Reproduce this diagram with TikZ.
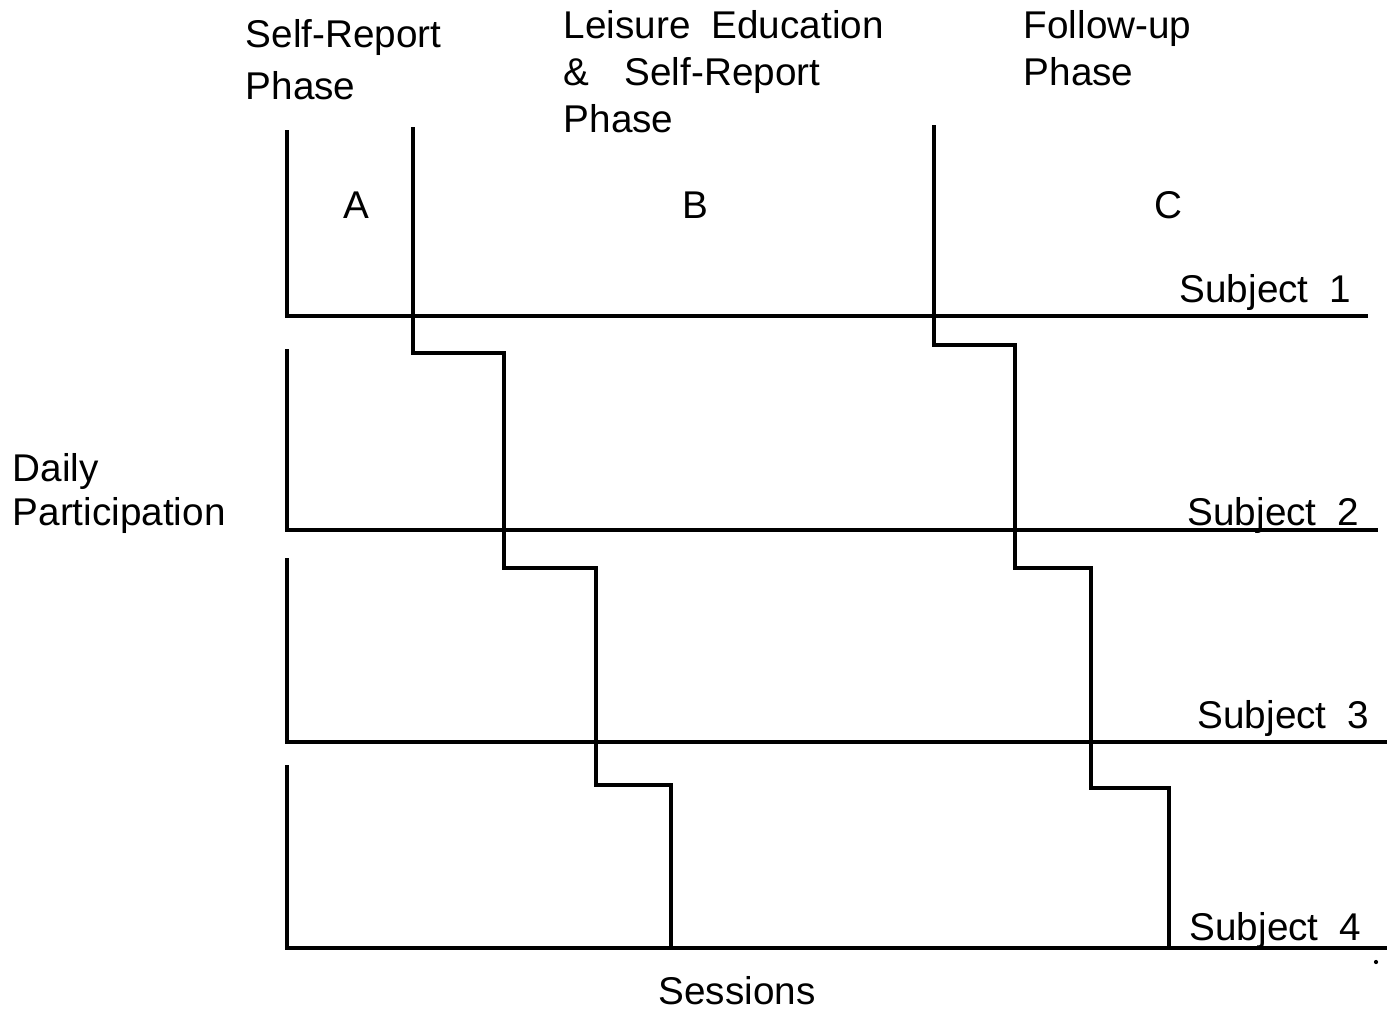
\documentclass[tikz,border=0pt]{standalone}
\usepackage{fontspec}
\setmainfont{Liberation Sans}
\usetikzlibrary{positioning}

\begin{document}
\begin{tikzpicture}[x=0.01cm,y=-0.01cm,
    lbl/.style={inner sep=0pt, font=\fontsize{11}{13.4}\selectfont},
    chartline/.style={line width=0.9pt}]

    \useasboundingbox (0,0) rectangle (1391,1009);

    % phase headings
    \node[lbl, anchor=north west, align=left, font=\fontsize{11}{14.8}\selectfont] (hdA) at (245,19) {Self-Report\\Phase};
    \node[lbl, anchor=north west, align=left] (hdB) at (563,10) {Leisure\hspace{6pt}Education\\\&\hspace{10pt}Self-Report\\Phase};
    \node[lbl, anchor=north west, align=left] (hdC) at (1023,10) {Follow-up\\Phase};

    \node[lbl, anchor=base] (phA) at (356,218) {A};
    \node[lbl, anchor=base] (phB) at (695,218) {B};
    \node[lbl, anchor=base] (phC) at (1168,218) {C};

    % axis labels
    \node[lbl, anchor=north west, align=left, font=\fontsize{11}{12.5}\selectfont] (yl) at (12,453) {Daily\\Participation};
    \node[lbl, anchor=base] (xl) at (737,1004) {Sessions};

    \foreach \ytop/\ybase/\xend/\xs/\ys [count=\i] in
        {130/316/1368/1352/302, 349/530/1378/1360/525,
         558/742/1387/1370/728, 765/948/1387/1362/940}  {   % one panel per subject
      \draw[chartline] (287,\ytop) coordinate (top\i) -- (287,\ybase) coordinate (org\i)
                       -- (\xend,\ybase) coordinate (end\i);
      \node[lbl, anchor=base east] (subj\i) at (\xs,\ys) {Subject\hspace{6pt}\i};
    }

    % phase changes, staggered across subjects
    \draw[chartline] (413,127) -- (413,353) -- (504,353) -- (504,568)
                     -- (596,568) -- (596,785) -- (671,785) -- (671,948);
    \draw[chartline] (934,125) -- (934,345) -- (1015,345) -- (1015,568)
                     -- (1091,568) -- (1091,788) -- (1169,788) -- (1169,948);

    \fill (1376,962) circle[radius=0.6pt];

\end{tikzpicture}
\end{document}
